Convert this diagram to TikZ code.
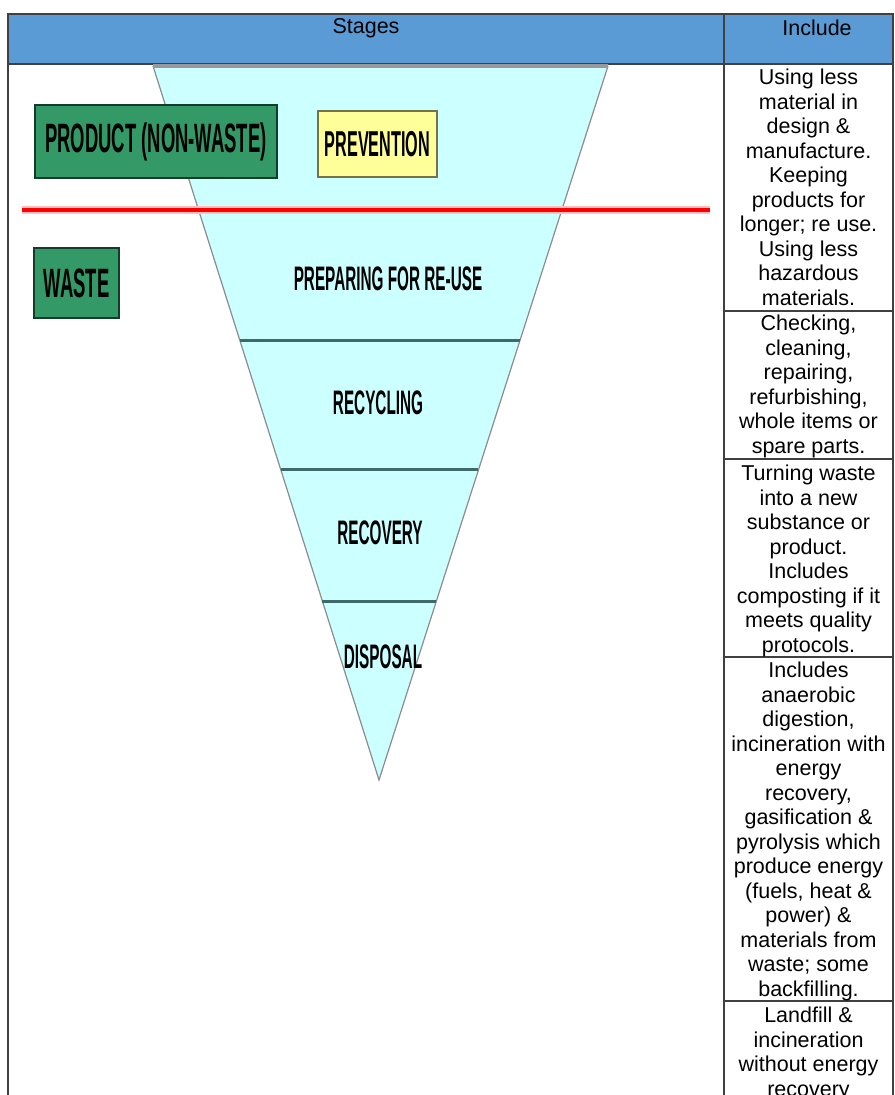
\documentclass[tikz,border=0pt]{standalone}
\usepackage{fontspec}
\setmainfont{Liberation Sans}
\newfontfamily\hierfont[FakeStretch=0.45]{Liberation Sans}
\usetikzlibrary{calc}

\definecolor{headblue}{HTML}{5B9BD5}
\definecolor{funnelcyan}{HTML}{CCFFFF}
\definecolor{boxgreen}{HTML}{339966}
\definecolor{boxyellow}{HTML}{FFFF99}
\definecolor{bandgrey}{HTML}{3E6A6A}

\tikzset{
  tabline/.style={draw=black!75, line width=0.7pt},
  greenbox/.style={draw=black!60!boxgreen, fill=boxgreen, line width=1pt, inner sep=0pt,
    font=\hierfont\bfseries\fontsize{20.5}{20.5}\selectfont},
  yellowbox/.style={draw=black!55!boxyellow, fill=boxyellow, line width=1pt, inner sep=0pt,
    font=\hierfont\bfseries\fontsize{18}{18}\selectfont},
  stagelabel/.style={inner sep=0pt, font=\hierfont\bfseries\fontsize{17}{17}\selectfont},
  headtext/.style={inner sep=0pt, font=\fontsize{10.75}{12.25}\selectfont},
  celltext/.style={anchor=north, inner sep=0pt, align=center,
    font=\fontsize{10.75}{12.25}\selectfont}
}

\begin{document}
\begin{tikzpicture}[x=0.5pt, y=-0.5pt]
\useasboundingbox (0,0) rectangle (894,1095);

% table head
\fill[headblue] (8,14) rectangle (893,64);
\draw[tabline] (8,1095) -- (8,14) -- (893,14) -- (893,1095);
\draw[tabline] (8,64) -- (893,64);
\draw[tabline] (724,14) -- (724,1095);
\foreach \y in {311,459,657,1001}
  {\draw[tabline] (724,\y) -- (893,\y);}

\node[headtext] at (366,28) (stages) {Stages};
\node[headtext] at (817,28) (include) {Include};

% funnel
\coordinate (ftl) at (153,66);
\coordinate (ftr) at (608,66);
\coordinate (fap) at (379,780);
\fill[funnelcyan] (ftl) -- (ftr) -- (fap) -- cycle;
\draw[black!45, line width=0.6pt] (ftr) -- (fap) -- (ftl);
\draw[black!40, line width=2pt] (ftl) -- (ftr);

\foreach \t/\n in {0.3838/a,0.5658/b,0.7493/c}
  {\draw[bandgrey, line width=1.5pt] ($(ftl)!\t!(fap)$) -- ($(ftr)!\t!(fap)$);}

% red line between product and waste
\coordinate (rl) at (22,210);
\coordinate (rr) at (710,210);
\draw[red!25, line width=4pt] (rl) -- (rr);
\draw[red, line width=2.4pt] (rl) -- (rr);

% side boxes
\node[greenbox, minimum width=121pt, minimum height=36.5pt] at (156,141.5) (product) {PRODUCT (NON-WASTE)};
\node[greenbox, minimum width=42.5pt, minimum height=35pt] at (76.5,283.5) (waste) {WASTE};
\node[yellowbox, minimum width=59.5pt, minimum height=33pt] at (377.5,144) (prevention) {PREVENTION};

% stages in the funnel
\node[stagelabel] at (388,279) (reuse) {PREPARING FOR RE-USE};
\node[stagelabel] at (378,403) (recycling) {RECYCLING};
\node[stagelabel] at (380,533) (recovery) {RECOVERY};
\node[stagelabel] at (383,657) (disposal) {DISPOSAL};

% what each stage includes
\node[celltext] at (808.5,69) (incprev) {Using less\\material in\\design \&\\manufacture.\\Keeping\\products for\\longer; re use.\\Using less\\hazardous\\materials.};
\node[celltext] at (808.5,315) (increuse) {Checking,\\cleaning,\\repairing,\\refurbishing,\\whole items or\\spare parts.};
\node[celltext] at (808.5,465) (increc) {Turning waste\\into a new\\substance or\\product.\\Includes\\composting if it\\meets quality\\protocols.};
\node[celltext] at (808.5,662) (increcov) {Includes\\anaerobic\\digestion,\\incineration with\\energy\\recovery,\\gasification \&\\pyrolysis which\\produce energy\\(fuels, heat \&\\power) \&\\materials from\\waste; some\\backfilling.};
\node[celltext] at (808.5,1007) (incdisp) {Landfill \&\\incineration\\without energy\\recovery};

\end{tikzpicture}
\end{document}
